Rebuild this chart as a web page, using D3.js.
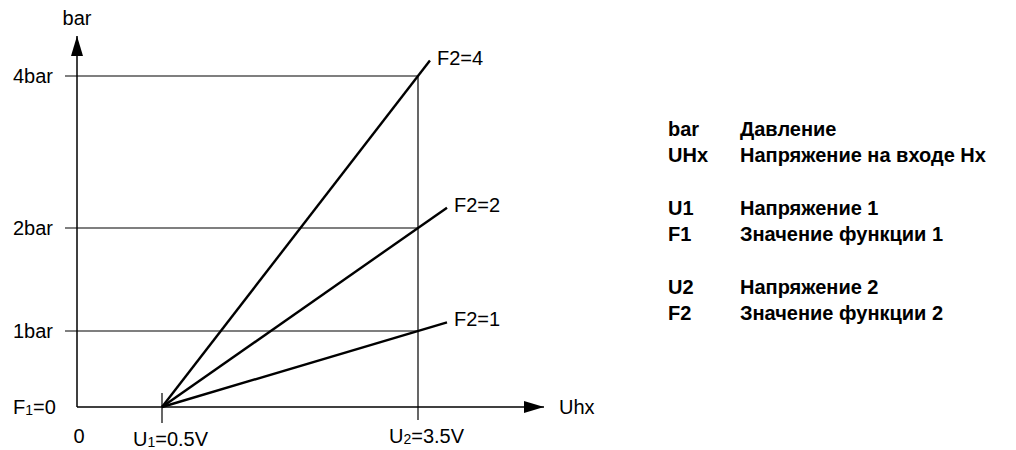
<!DOCTYPE html>
<html>
<head>
<meta charset="utf-8">
<script src="https://cdn.jsdelivr.net/npm/d3@7"></script>
<style>
    body { margin: 0; background: #fff; }
    svg { font-family: Arial, "Liberation Sans", sans-serif; }
</style>
</head>
<body>
<script>
// values of the diagram
const yLevels = [0, 1, 2, 4];
const yTickLabels = ["1bar", "2bar", "4bar"];
const yTickValues = [1, 2, 4];
const u1 = 0.5;
const u2 = 3.5;
const f2Values = [1, 2, 4];
const f2Ends = [3.84, 3.84, 3.64];
const legendKeys = ["bar", "UHx", "U1", "F1", "U2", "F2"];
const legendTexts = ["Давление", "Напряжение на входе Hx", "Напряжение 1", "Значение функции 1", "Напряжение 2", "Значение функции 2"];
const legendRows = [0, 1, 3, 4, 6, 7];

const width = 1016, height = 450;

const svg = d3.select("body").append("svg")
    .attr("width", width)
    .attr("height", height);

// schematic axes, not to scale
const x = d3.scaleLinear().domain([0, u1, u2]).range([77, 162, 418]);
const y = d3.scaleLinear().domain(yLevels).range([407, 331, 228, 76]);

svg.append("defs").append("marker")
    .attr("id", "arrow")
    .attr("viewBox", "0 0 20 12")
    .attr("refX", 20).attr("refY", 6)
    .attr("markerWidth", 20).attr("markerHeight", 12)
    .attr("markerUnits", "userSpaceOnUse")
    .attr("orient", "auto")
    .append("path")
    .attr("d", "M0,0 L20,6 L0,12 Z")
    .attr("fill", "#000");

const grid = svg.append("g").attr("stroke", "#000").attr("stroke-width", 1.2);

// horizontal levels
grid.selectAll("line.h")
    .data(yTickValues)
    .join("line")
    .attr("class", "h")
    .attr("x1", x(0) - 12)
    .attr("x2", x(u2))
    .attr("y1", d => y(d))
    .attr("y2", d => y(d));

// U2 vertical
grid.append("line")
    .attr("x1", x(u2)).attr("x2", x(u2))
    .attr("y1", y(4)).attr("y2", y(0) + 13);

// U1 tick
grid.append("line")
    .attr("x1", x(u1)).attr("x2", x(u1))
    .attr("y1", y(0) - 14).attr("y2", y(0) + 16);

// axes with arrows
svg.append("line")
    .attr("x1", x(0)).attr("y1", y(0))
    .attr("x2", 544).attr("y2", y(0))
    .attr("stroke", "#000").attr("stroke-width", 1.5)
    .attr("marker-end", "url(#arrow)");
svg.append("line")
    .attr("x1", x(0)).attr("y1", y(0))
    .attr("x2", x(0)).attr("y2", 36)
    .attr("stroke", "#000").attr("stroke-width", 1.5)
    .attr("marker-end", "url(#arrow)");

// F2 lines, straight from U1 through (U2, F2)
const lines = svg.append("g");
f2Values.forEach((f, i) => {
    const x0 = x(u1), y0 = y(0);
    const x1 = x(u2), y1 = y(f);
    const t = (x(f2Ends[i]) - x0) / (x1 - x0);
    const xe = x0 + (x1 - x0) * t, ye = y0 + (y1 - y0) * t;
    lines.append("line")
        .attr("x1", x0).attr("y1", y0)
        .attr("x2", xe).attr("y2", ye)
        .attr("stroke", "#000")
        .attr("stroke-width", 2.4);
    lines.append("text")
        .attr("x", xe + 7)
        .attr("y", ye + 4)
        .attr("font-size", 20)
        .text("F2=" + f);
});

const labels = svg.append("g").attr("font-size", 20).attr("fill", "#000");

labels.selectAll("text.ytick")
    .data(yTickValues)
    .join("text")
    .attr("class", "ytick")
    .attr("x", x(0) - 24)
    .attr("y", d => y(d))
    .attr("dy", "0.36em")
    .attr("text-anchor", "end")
    .text((d, i) => yTickLabels[i]);

labels.append("text")
    .attr("x", x(0))
    .attr("y", 25)
    .attr("text-anchor", "middle")
    .text("bar");

labels.append("text")
    .attr("x", 559)
    .attr("y", y(0) + 7)
    .text("Uhx");

labels.append("text")
    .attr("x", x(0) + 2)
    .attr("y", 443)
    .attr("text-anchor", "middle")
    .text("0");

function subLabel(xp, yp, main, sub, rest) {
    const t = labels.append("text").attr("x", xp).attr("y", yp);
    t.append("tspan").text(main);
    t.append("tspan").attr("font-size", 14).attr("dy", 1).text(sub);
    t.append("tspan").attr("dy", -1).text(rest);
}
subLabel(13, y(0) + 7, "F", "1", "=0");
subLabel(133, 446, "U", "1", "=" + u1 + "V");
subLabel(389, 443, "U", "2", "=" + u2 + "V");

// legend
const legend = svg.append("g")
    .attr("font-size", 20)
    .attr("font-weight", "bold");
legendKeys.forEach((k, i) => {
    const yy = 136 + legendRows[i] * 26.3;
    legend.append("text").attr("x", 668).attr("y", yy).text(k);
    legend.append("text").attr("x", 740).attr("y", yy).text(legendTexts[i]);
});
</script>
</body>
</html>
